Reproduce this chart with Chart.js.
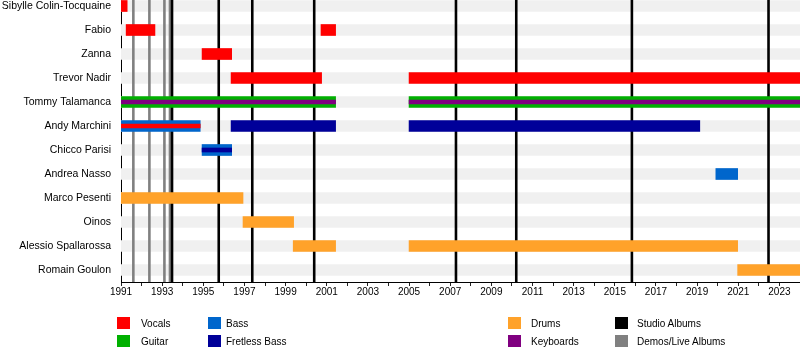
<!DOCTYPE html>
<html>
<head>
<meta charset="utf-8">
<script src="https://cdn.jsdelivr.net/npm/chart.js@4/dist/chart.umd.min.js"></script>
<style>
  html, body { margin: 0; padding: 0; background: #fff; }
  #wrap { position: relative; width: 800px; height: 355px; overflow: hidden; }
  #c { position: absolute; left: 0; top: 0; }
  .lg { position: absolute; font: 10px "Liberation Sans", Arial, sans-serif; color: #000; line-height: 12px; white-space: nowrap; }
  .sw { position: absolute; width: 13px; height: 12px; }
</style>
</head>
<body>
<div id="wrap">
  <canvas id="c" width="800" height="355"></canvas>
  <div id="legend"></div>
</div>
<script>
// ---------- data ----------
const members = ["Sibylle Colin-Tocquaine","Fabio","Zanna","Trevor Nadir","Tommy Talamanca","Andy Marchini","Chicco Parisi","Andrea Nasso","Marco Pesenti","Oinos","Alessio Spallarossa","Romain Goulon"];

const vocals = [["Sibylle Colin-Tocquaine",1991.0,1991.3],["Fabio",1991.25,1992.65],["Fabio",2000.72,2001.43],["Zanna",1994.94,1996.38],["Trevor Nadir",1996.35,2000.75],["Trevor Nadir",2005.0,2024.0]];
const guitar = [["Tommy Talamanca",1991.0,2001.43],["Tommy Talamanca",2005.0,2024.0]];
const bass = [["Andy Marchini",1991.0,1994.85],["Chicco Parisi",1994.94,1996.38],["Andrea Nasso",2019.91,2020.97]];
const fretlessBass = [["Andy Marchini",1996.35,2001.43],["Andy Marchini",2005.0,2019.13]];
const drums = [["Marco Pesenti",1991.0,1996.93],["Oinos",1996.93,1999.39],["Alessio Spallarossa",1999.37,2001.43],["Alessio Spallarossa",2005.0,2020.97],["Romain Goulon",2020.97,2024.0]];

// secondary roles (thin inner bars)
const keyboardsInner = [["Tommy Talamanca",1991.0,2001.43],["Tommy Talamanca",2005.0,2024.0]];
const vocalsInner = [["Andy Marchini",1991.0,1994.85]];
const fretlessInner = [["Chicco Parisi",1994.94,1996.38]];

const studioAlbums = [1993.48,1995.75,1997.38,2000.39,2007.28,2010.21,2015.83,2022.47];
const demosLive = [1991.6,1992.38,1993.11,1993.38];

const timelineStart = 1991;
const timelineEnd = 2024;
const tickYears = [1991,1992,1993,1994,1995,1996,1997,1998,1999,2000,2001,2002,2003,2004,2005,2006,2007,2008,2009,2010,2011,2012,2013,2014,2015,2016,2017,2018,2019,2020,2021,2022,2023,2024];
const tickLabels = ["1991","1993","1995","1997","1999","2001","2003","2005","2007","2009","2011","2013","2015","2017","2019","2021","2023"];

const legendItems = [
  ["Vocals","vocals"],["Guitar","guitar"],["Bass","bass"],["Fretless Bass","fretless"],
  ["Drums","drums"],["Keyboards","keyboards"],["Studio Albums","studio"],["Demos/Live Albums","demos"]
];

// ---------- styles ----------
const colors = {
  vocals: "#ff0000", guitar: "#00b000", bass: "#0066cc", fretless: "#000099",
  drums: "#ffa22a", keyboards: "#800080", studio: "#000000", demos: "#808080", row: "#f0f0f0"
};

function toPoints(spans) {
  return spans.map(s => ({ x: [s[1], s[2]], y: members.indexOf(s[0]) }));
}
function barSet(label, spans, color, thickness, order) {
  return { label, data: toPoints(spans), backgroundColor: color, barThickness: thickness,
           grouped: false, order, borderWidth: 0, borderSkipped: false };
}

const rowSpans = members.map(m => [m, timelineStart, timelineEnd]);

const datasets = [
  barSet("rows", rowSpans, colors.row, 11, 5),
  barSet("Vocals", vocals, colors.vocals, 11, 3),
  barSet("Guitar", guitar, colors.guitar, 11, 3),
  barSet("Bass", bass, colors.bass, 11, 3),
  barSet("Fretless Bass", fretlessBass, colors.fretless, 11, 3),
  barSet("Drums", drums, colors.drums, 11, 3),
  barSet("Keyboards", keyboardsInner, colors.keyboards, 4, 1),
  barSet("Vocals (2nd)", vocalsInner, colors.vocals, 4, 1),
  barSet("Fretless (2nd)", fretlessInner, colors.fretless, 4, 1)
];

const eventLines = {
  id: "eventLines",
  afterDatasetDraw(chart, args) {
    if (args.index !== 0) return;
    const { ctx, chartArea, scales: { x } } = chart;
    ctx.save();
    const draw = (yrs, col) => {
      ctx.strokeStyle = col; ctx.lineWidth = 2.6;
      yrs.forEach(yr => {
        const px = x.getPixelForValue(yr);
        ctx.beginPath(); ctx.moveTo(px, chartArea.top); ctx.lineTo(px, chartArea.bottom); ctx.stroke();
      });
    };
    draw(demosLive, colors.demos);
    draw(studioAlbums, colors.studio);
    ctx.restore();
  }
};

new Chart(document.getElementById("c"), {
  type: "bar",
  data: { datasets },
  plugins: [eventLines],
  options: {
    indexAxis: "y",
    responsive: false,
    animation: false,
    devicePixelRatio: 1,
    layout: { padding: 0 },
    plugins: { legend: { display: false }, tooltip: { enabled: false } },
    scales: {
      x: {
        type: "linear", position: "bottom", min: timelineStart, max: timelineEnd, bounds: "data", offset: false,
        afterBuildTicks: s => { s.ticks = tickYears.map(v => ({ value: v })); },
        afterFit: s => { s.height = 73; s.paddingRight = 0; },
        grid: { display: true, drawOnChartArea: false, drawTicks: true, tickLength: 4, color: "#222", lineWidth: 1 },
        border: { display: true, color: "#000", width: 1 },
        ticks: {
          autoSkip: false, maxRotation: 0, padding: 0, color: "#000",
          font: { family: "'Liberation Sans', Arial, sans-serif", size: 10 },
          callback: v => tickLabels.includes(String(v)) ? String(v) : ""
        }
      },
      y: {
        type: "linear", position: "left", reverse: true, min: -0.25, max: 11.5, bounds: "data", offset: false,
        afterBuildTicks: s => { s.ticks = members.map((m, i) => ({ value: i })); },
        afterFit: s => { s.width = 121; s.paddingTop = 0; s.paddingBottom = 0; },
        grid: { display: false, drawTicks: false },
        border: { display: true, color: "#000", width: 1 },
        ticks: {
          autoSkip: false, padding: 10, color: "#000",
          font: { family: "'Liberation Sans', Arial, sans-serif", size: 10.5 },
          callback: v => members[v]
        }
      }
    }
  }
});

// ---------- legend (HTML, real text) ----------
const legendCols = [[117, 141], [208, 226], [508, 531], [615, 637]];
const legendRows = [317, 335];
const lg = document.getElementById("legend");
legendItems.forEach((it, i) => {
  const col = legendCols[Math.floor(i / 2)], row = legendRows[i % 2];
  const sw = document.createElement("div");
  sw.className = "sw"; sw.style.left = col[0] + "px"; sw.style.top = row + "px";
  sw.style.background = colors[it[1]];
  lg.appendChild(sw);
  const t = document.createElement("div");
  t.className = "lg"; t.style.left = col[1] + "px"; t.style.top = (row + 1) + "px";
  t.textContent = it[0];
  lg.appendChild(t);
});
</script>
</body>
</html>
